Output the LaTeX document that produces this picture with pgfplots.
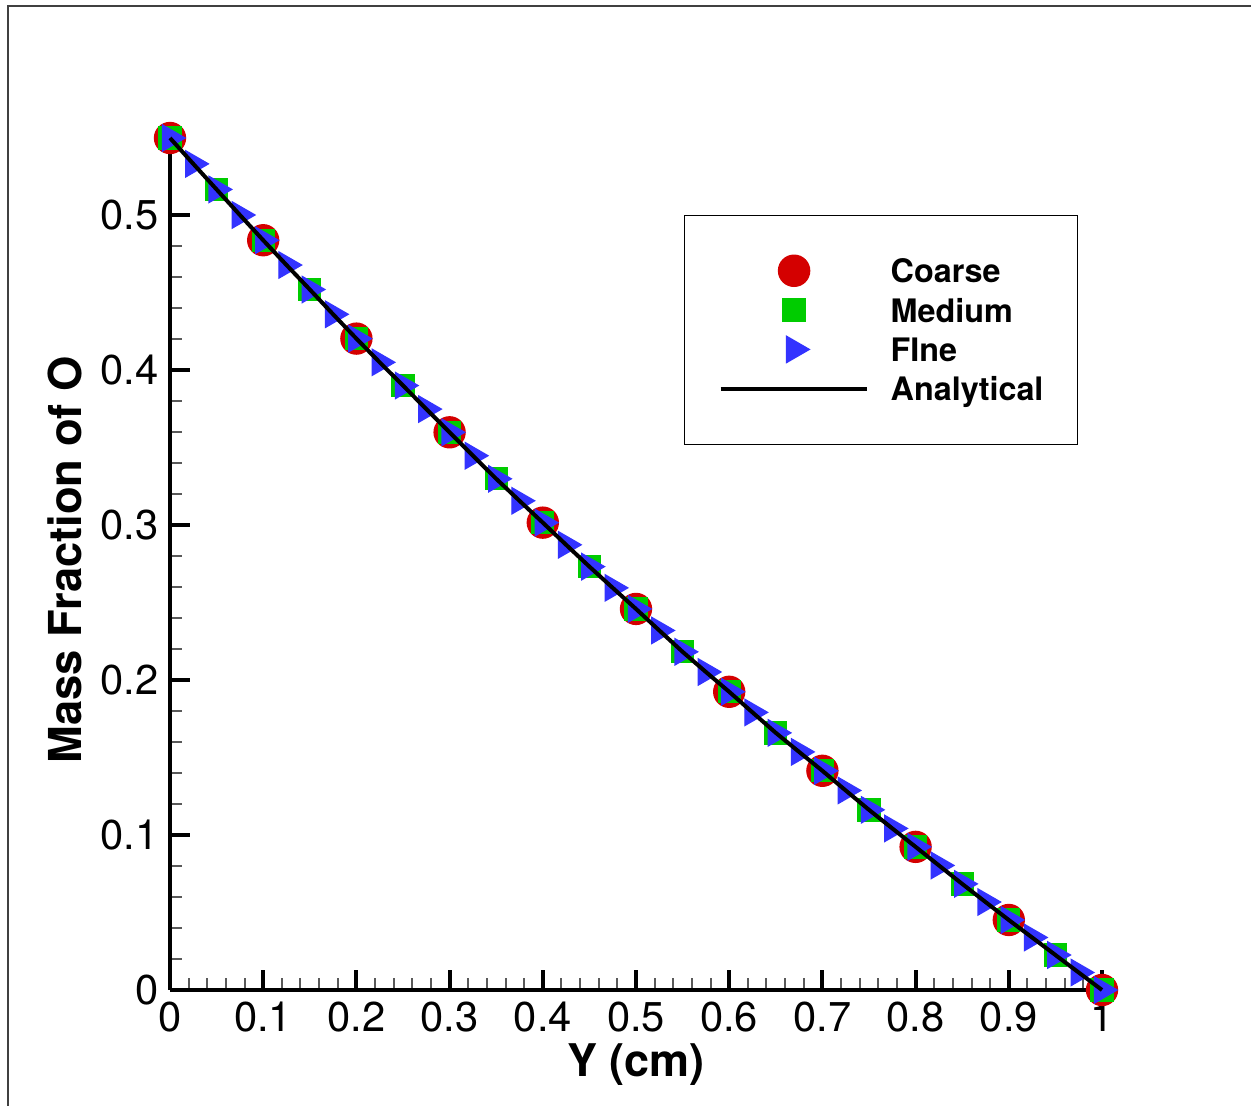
\documentclass[border=0pt]{standalone}
\usepackage{fontspec}
\setmainfont{TeX Gyre Heros}
\usepackage{pgfplots}
\pgfplotsset{compat=1.18}
\definecolor{cred}{RGB}{212,0,0}
\definecolor{cgreen}{RGB}{0,204,0}
\definecolor{cblue}{RGB}{51,51,255}
\pgfplotsset{mylegimg/.style={legend image code/.code={%
  \path[draw=none,fill=none] (0pt,-5pt) rectangle (44pt,5pt);
  \draw[mark repeat=2,mark phase=2,##1] plot coordinates {(0pt,0pt) (22pt,0pt) (44pt,0pt)};}}}
\begin{document}
\begin{tikzpicture}
\path[use as bounding box] (-51pt,-34.8pt) rectangle (324.3pt,297pt);
\draw[line width=0.45pt, black!75] (-48.6pt,-34.8pt) -- (-48.6pt,295.2pt) -- (324.3pt,295.2pt);
\begin{axis}[
  at={(0,0)}, anchor=south west,
  scale only axis, width=279.6pt, height=255.6pt,
  xmin=0, xmax=1, ymin=0, ymax=0.55,
  axis x line*=bottom, axis y line*=left,
  axis line style={line width=1.3pt},
  clip=false, clip marker paths=true,
  xtick={0,0.1,0.2,0.3,0.4,0.5,0.6,0.7,0.8,0.9,1},
  ytick={0,0.1,0.2,0.3,0.4,0.5},
  minor tick num=4,
  tick align=inside,
  major tick length=6pt, minor tick length=3.5pt,
  major tick style={line width=1.2pt, black},
  minor tick style={line width=0.6pt, black!65},
  /pgf/number format/assume math mode=true,
  tick label style={font=\fontsize{12.5}{15}\selectfont},
  xlabel={\bfseries Y (cm)},
  ylabel={\bfseries Mass Fraction of O},
  every axis x label/.style={at={(axis description cs:0.5,-0.088)}, anchor=center, font=\fontsize{13.5}{16}\selectfont},
  every axis y label/.style={at={(axis description cs:-0.113,0.505)}, anchor=center, rotate=90, font=\fontsize{13.6}{16}\selectfont},
  legend cell align=left,
  legend style={at={(0.5515,0.9102)}, anchor=north west, draw=black, line width=0.45pt, fill=white,
    inner xsep=10.2pt, inner ysep=11.65pt, row sep=1.8pt, column sep=6.4pt,
    font=\bfseries\fontsize{9.7}{11}\selectfont,
    nodes={inner sep=0pt, text height=7.2pt, text depth=0pt}},
]
\addplot[only marks, mylegimg, mark=*, mark size=4.65pt, mark options={fill=cred, draw=cred}] coordinates {
(0,0.55) (0.1,0.484) (0.2,0.4205) (0.3,0.360) (0.4,0.3017) (0.5,0.246)
(0.6,0.1925) (0.7,0.1415) (0.8,0.0924) (0.9,0.0452) (1,0)
};
\addlegendentry{Coarse}
\addplot[only marks, mylegimg, mark=square*, mark size=3.3pt, mark options={fill=cgreen, draw=cgreen}] coordinates {
(0,0.55) (0.05,0.5168) (0.1,0.484) (0.15,0.4522) (0.2,0.4205) (0.25,0.3902)
(0.3,0.360) (0.35,0.330) (0.4,0.3017) (0.45,0.2733) (0.5,0.246) (0.55,0.2183)
(0.6,0.1925) (0.65,0.166) (0.7,0.1415) (0.75,0.1163) (0.8,0.0924) (0.85,0.0685)
(0.9,0.0452) (0.95,0.0226) (1,0)
};
\addlegendentry{Medium}
\addplot[only marks, mylegimg, mark=triangle*, mark size=4.5pt, mark options={rotate=-90, fill=cblue, draw=cblue}] coordinates {
(0,0.55) (0.025,0.5333) (0.05,0.5168) (0.075,0.5003) (0.1,0.484) (0.125,0.4680)
(0.15,0.4522) (0.175,0.4362) (0.2,0.4205) (0.225,0.4052) (0.25,0.3902) (0.275,0.3750)
(0.3,0.360) (0.325,0.3449) (0.35,0.330) (0.375,0.3158) (0.4,0.3017) (0.425,0.2874)
(0.45,0.2733) (0.475,0.2596) (0.5,0.246) (0.525,0.2321) (0.55,0.2183) (0.575,0.2053)
(0.6,0.1925) (0.625,0.1792) (0.65,0.166) (0.675,0.1537) (0.7,0.1415) (0.725,0.1288)
(0.75,0.1163) (0.775,0.1043) (0.8,0.0924) (0.825,0.0804) (0.85,0.0685) (0.875,0.0568)
(0.9,0.0452) (0.925,0.0339) (0.95,0.0226) (0.975,0.0113) (1,0)
};
\addlegendentry{FIne}
\addplot[mylegimg, black, line width=1.2pt, mark=none] coordinates {
(0,0.55) (0.025,0.5333) (0.05,0.5168) (0.075,0.5003) (0.1,0.484) (0.125,0.4680)
(0.15,0.4522) (0.175,0.4362) (0.2,0.4205) (0.225,0.4052) (0.25,0.3902) (0.275,0.3750)
(0.3,0.360) (0.325,0.3449) (0.35,0.330) (0.375,0.3158) (0.4,0.3017) (0.425,0.2874)
(0.45,0.2733) (0.475,0.2596) (0.5,0.246) (0.525,0.2321) (0.55,0.2183) (0.575,0.2053)
(0.6,0.1925) (0.625,0.1792) (0.65,0.166) (0.675,0.1537) (0.7,0.1415) (0.725,0.1288)
(0.75,0.1163) (0.775,0.1043) (0.8,0.0924) (0.825,0.0804) (0.85,0.0685) (0.875,0.0568)
(0.9,0.0452) (0.925,0.0339) (0.95,0.0226) (0.975,0.0113) (1,0)
};
\addlegendentry{Analytical}
\end{axis}
\end{tikzpicture}
\end{document}
